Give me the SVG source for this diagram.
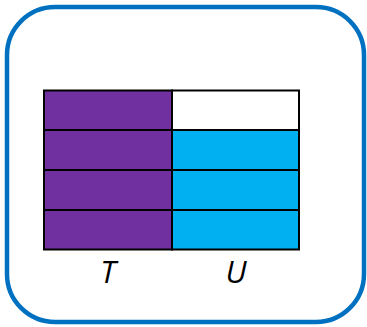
<svg xmlns="http://www.w3.org/2000/svg" width="367" height="327" viewBox="0 0 367 327">
<style>
.c{stroke:#000;stroke-width:2}
.p{fill:#7030A0}
.b{fill:#00B0F0}
.w{fill:#fff}
.l{font-family:"Open Sans","Liberation Sans",Arial,sans-serif;font-style:italic;font-size:31px;fill:#000;text-anchor:middle}
</style>
<rect x="7" y="7" width="357" height="315" rx="48" ry="48" fill="#fff" stroke="#0070C0" stroke-width="4.5"/>
<g id="T">
<rect class="c p" x="44" y="90.5" width="128" height="39.5"/>
<rect class="c p" x="44" y="130" width="128" height="40"/>
<rect class="c p" x="44" y="170" width="128" height="40"/>
<rect class="c p" x="44" y="210" width="128" height="39.5"/>
<text class="l" x="108" y="283">T</text>
</g>
<g id="U">
<rect class="c w" x="172" y="90.5" width="127" height="39.5"/>
<rect class="c b" x="172" y="130" width="127" height="40"/>
<rect class="c b" x="172" y="170" width="127" height="40"/>
<rect class="c b" x="172" y="210" width="127" height="39.5"/>
<text class="l" x="236" y="283">U</text>
</g>
<g id="connectors"/>
</svg>
